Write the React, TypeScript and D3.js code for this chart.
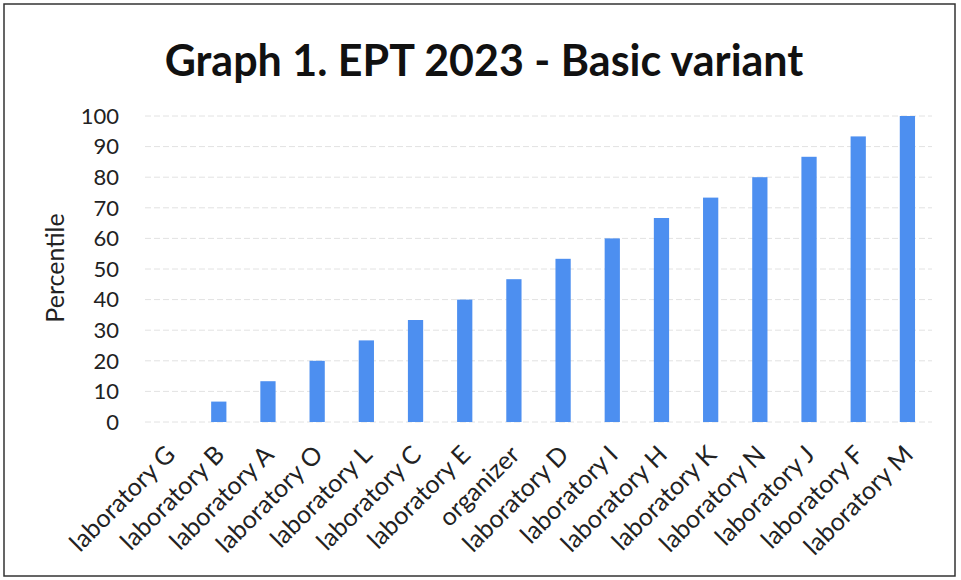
import React from "react";
import * as d3 from "d3";

const categories = [
  "laboratory G", "laboratory B", "laboratory A", "laboratory O", "laboratory L",
  "laboratory C", "laboratory E", "organizer", "laboratory D", "laboratory I",
  "laboratory H", "laboratory K", "laboratory N", "laboratory J", "laboratory F", "laboratory M",
];
const values = [0, 6.67, 13.33, 20, 26.67, 33.33, 40, 46.67, 53.33, 60, 66.67, 73.33, 80, 86.67, 93.33, 100];
const yTicks = [0, 10, 20, 30, 40, 50, 60, 70, 80, 90, 100];
const title = "Graph 1. EPT 2023 - Basic variant";
const yTitle = "Percentile";

const W = 961, H = 580;
const left = 145, right = 932, top = 116, bottom = 422;
const font = "Lato, 'Open Sans', sans-serif";

export default function App() {
  const x = d3.scaleBand<string>().domain(categories).range([left, right]).paddingInner(0.69).paddingOuter(0.345);
  const y = d3.scaleLinear().domain([0, 100]).range([bottom, top]);
  return (
    <svg width={W} height={H} style={{ position: "absolute", left: 0, top: 0, background: "#fff" }}>
      <rect x={0} y={0} width={W} height={H} fill="#fff" />
      <rect x={4} y={4} width={951} height={572} fill="none" stroke="#333" strokeWidth={1.5} />
      <text x={484} y={76} textAnchor="middle" fontFamily={font} fontWeight={700} fontSize={43} fill="#111">{title}</text>
      {yTicks.map((t) => (
        <g key={t}>
          <line x1={left} x2={right} y1={y(t)} y2={y(t)} stroke="#e2e2e2" strokeWidth={1} strokeDasharray="6,3" />
          <text x={119} y={y(t)} dy="0.35em" textAnchor="end" fontFamily={font} fontSize={22} fill="#222">{t}</text>
        </g>
      ))}
      {categories.map((c, i) => (
        <rect key={c} x={x(c)} y={y(values[i])} width={x.bandwidth()} height={Math.max(0, y(0) - y(values[i]))} fill="#4d8ff0" />
      ))}
      {categories.map((c) => {
        const cx = (x(c) as number) + x.bandwidth() / 2 + 1;
        const cy = 450;
        return (
          <text key={c} transform={`translate(${cx},${cy}) rotate(-45)`} textAnchor="end" dy="0.35em"
            fontFamily={font} fontSize={25} fill="#222">{c}</text>
        );
      })}
      <text transform={`translate(64,268) rotate(-90)`} textAnchor="middle" fontFamily={font} fontSize={25} fill="#222">{yTitle}</text>
    </svg>
  );
}
